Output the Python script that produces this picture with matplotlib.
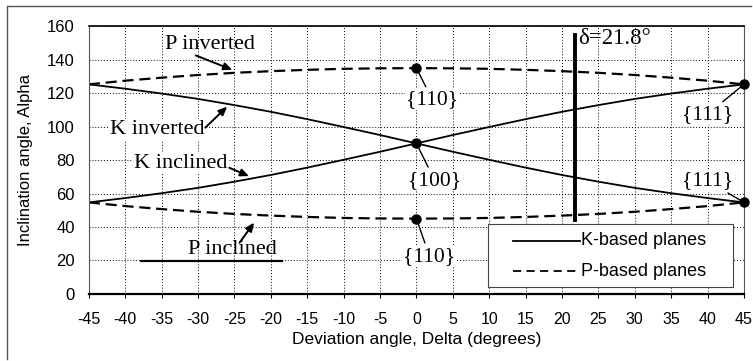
import matplotlib.pyplot as plt
from matplotlib.lines import Line2D
from matplotlib.patches import Rectangle

# deviation angle (deg) and inclination angles
delta = [-45, -40, -35, -30, -25, -20, -15, -10, -5, 0,
         5, 10, 15, 20, 25, 30, 35, 40, 45]
k_inclined = [54.7, 57.3, 60.2, 63.4, 67.1, 71.1, 75.5, 80.2, 85.0, 90.0,
              95.0, 99.8, 104.5, 108.9, 112.9, 116.6, 119.8, 122.7, 125.3]
k_inverted = [125.3, 122.7, 119.8, 116.6, 112.9, 108.9, 104.5, 99.8, 95.0, 90.0,
              85.0, 80.2, 75.5, 71.1, 67.1, 63.4, 60.2, 57.3, 54.7]
p_inverted = [125.3, 127.5, 129.3, 130.9, 132.2, 133.2, 134.0, 134.6, 134.9, 135.0,
              134.9, 134.6, 134.0, 133.2, 132.2, 130.9, 129.3, 127.5, 125.3]
p_inclined = [54.7, 52.5, 50.7, 49.1, 47.8, 46.8, 46.0, 45.4, 45.1, 45.0,
              45.1, 45.4, 46.0, 46.8, 47.8, 49.1, 50.7, 52.5, 54.7]

# marked poles
pole_x = [0, 0, 0, 45, 45]
pole_y = [135, 90, 45, 125.3, 54.7]
pole_labels = ['{110}', '{100}', '{110}', '{111}', '{111}']
pole_text_xy = [(2.2, 116), (2.5, 68), (1.8, 22.5), (40, 107.5), (40, 67.5)]

# critical angle marker
delta_crit = [21.8, 21.8]
delta_crit_span = [44, 155]

# stray underline below "P inclined"
stray_x = [-37.9, -18.4]
stray_y = [19.4, 19.4]

legend_labels = ['K-based planes', 'P-based planes']

serif = 'Liberation Serif'
sans = 'Liberation Sans'
plt.rcParams['font.family'] = sans
plt.rcParams['axes.unicode_minus'] = False

fig = plt.figure(figsize=(7.53, 3.61), dpi=100)
ax = fig.add_axes([0.118, 0.186, 0.870, 0.741])

dash = (0, (5, 2.6))
ax.plot(delta, k_inclined, color='black', lw=1.3)
ax.plot(delta, k_inverted, color='black', lw=1.3)
ax.plot(delta, p_inverted, color='black', lw=1.6, linestyle=dash)
ax.plot(delta, p_inclined, color='black', lw=1.6, linestyle=dash)
ax.plot(delta_crit, delta_crit_span, color='black', lw=2.8)
ax.plot(stray_x, stray_y, color='black', lw=1.6)
ax.plot(pole_x, pole_y, 'o', color='black', ms=6.5, clip_on=False, zorder=5)

ax.text(22.2, 153, 'δ=21.8°', family=serif, fontsize=16.5, va='center', ha='left')

for (px, py), lab, (tx, ty) in zip(zip(pole_x, pole_y), pole_labels, pole_text_xy):
    ax.annotate(lab, xy=(px, py), xytext=(tx, ty), family=serif, fontsize=15.5,
                ha='center', va='center',
                bbox=dict(boxstyle='square,pad=0.05', fc='white', ec='none'),
                arrowprops=dict(arrowstyle='-', color='black', lw=1.0,
                                shrinkA=2, shrinkB=0))

arrow = dict(arrowstyle='-|>,head_length=0.5,head_width=0.22', color='black',
             lw=1.4, shrinkA=0, shrinkB=0)
box = dict(boxstyle='square,pad=0.05', fc='white', ec='none')
ax.text(-28.3, 149, 'P inverted', family=serif, fontsize=16, ha='center', va='center')
ax.annotate('', xy=(-25.3, 134.0), xytext=(-30.3, 142.6), arrowprops=arrow)
ax.text(-35.6, 98.5, 'K inverted', family=serif, fontsize=16, ha='center', va='center', bbox=box)
ax.annotate('', xy=(-26.0, 112.0), xytext=(-29.0, 99.4), arrowprops=arrow)
ax.text(-32.4, 78, 'K inclined', family=serif, fontsize=16, ha='center', va='center', bbox=box)
ax.annotate('', xy=(-23.0, 70.4), xytext=(-25.7, 75.4), arrowprops=arrow)
ax.text(-25.3, 26.5, 'P inclined', family=serif, fontsize=16, ha='center', va='center')
ax.annotate('', xy=(-22.3, 42.6), xytext=(-24.3, 30.6), arrowprops=arrow)

ax.set_xlim(-45, 45)
ax.set_ylim(0, 160)
ax.set_xticks(range(-45, 46, 5))
ax.set_yticks(range(0, 161, 20))
ax.grid(True, color='black', linestyle=(0, (1, 2)), lw=0.7)
ax.tick_params(axis='y', length=0, labelsize=12, pad=10)
ax.tick_params(axis='x', length=3, direction='out', labelsize=11.5, pad=10)
for side in ['left', 'right']:
    ax.spines[side].set_color('#555555')
    ax.spines[side].set_linewidth(0.8)
ax.spines['top'].set_linewidth(1.2)
ax.spines['bottom'].set_linewidth(1.6)

ax.set_xlabel('Deviation angle, Delta (degrees)', fontsize=12.5, labelpad=4)
ax.set_ylabel('Inclination angle, Alpha', fontsize=12, labelpad=10)

# legend box drawn by hand to match the original's spacing
tr = ax.transAxes
ax.add_patch(Rectangle((0.61, 0.024), 0.373, 0.237, transform=tr, fc='white',
                       ec='#444444', lw=0.8, zorder=6))
ax.plot([0.647, 0.749], [0.199, 0.199], transform=tr, color='black', lw=1.3, zorder=7)
ax.plot([0.647, 0.749], [0.084, 0.084], transform=tr, color='black', lw=1.3,
        linestyle=(0, (4.5, 3)), zorder=7)
ax.text(0.752, 0.199, legend_labels[0], transform=tr, fontsize=13, va='center', zorder=7)
ax.text(0.752, 0.084, legend_labels[1], transform=tr, fontsize=13, va='center', zorder=7)

# scanned page border
fig.add_artist(Line2D([0.01, 0.998], [0.983, 0.983], color='#555555', lw=1.0))
fig.add_artist(Line2D([0.009, 0.009], [0.005, 0.983], color='#555555', lw=1.0))

fig.savefig('out.png', dpi=100)
